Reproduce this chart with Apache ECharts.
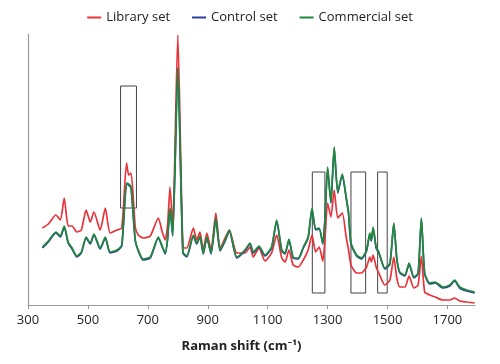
<!DOCTYPE html>
<html>
<head>
<meta charset="utf-8">
<script src="https://cdn.jsdelivr.net/npm/echarts@6/dist/echarts.min.js"></script>
<style>html,body{margin:0;padding:0;background:#fff}#c{width:500px;height:364px}</style>
</head>
<body>
<div id="c"></div>
<script>
var wavenumber = [348,368,393,408,421,434,447,463,478,494,508,520,541,558,574,597,613,629,636,644,658,668,684,708,735,748,758,766,774,783,800,817,830,852,863,874,885,897,911,927,941,958,972,997,1024,1041,1052,1071,1091,1113,1130,1147,1158,1171,1185,1202,1219,1235,1248,1260,1272,1284,1291,1300,1311,1322,1334,1349,1362,1370,1378,1397,1413,1430,1441,1446,1452,1462,1471,1491,1508,1521,1531,1541,1558,1572,1588,1602,1613,1624,1641,1659,1685,1708,1724,1741,1764,1791];
var librarySet = [77,81,90,85,107,79,79,73,75,95,83,93,75,97,72,75,77,142,130,132,78,70,67,69,87,73,65,80,118,79,270,58,57,77,65,73,55,72,55,92,57,67,75,52,52,58,48,57,44,52,70,47,43,55,40,38,45,55,70,53,58,44,65,102,88,115,87,92,68,55,40,32,32,38,48,43,50,38,32,20,25,48,27,18,18,29,17,20,49,13,10,8,5,5,7,4,3,2];
var controlSet = [57,63,72,68,78,62,56,48,52,67,61,70,56,67,52,54,59,121,120,117,64,54,45,47,67,58,51,66,96,69,236,52,48,69,61,68,51,67,51,86,54,64,74,47,54,61,52,58,49,57,84,54,51,65,47,46,57,67,96,75,76,61,84,137,102,157,112,130,107,91,61,49,46,54,71,64,77,57,52,36,41,81,46,32,29,41,27,31,86,31,21,22,17,19,24,17,14,12];
var commercialSet = [58,64,73,69,79,63,57,49,53,68,62,71,57,68,53,55,60,122,121,118,65,55,46,48,68,59,52,67,97,70,237,53,49,70,62,69,52,68,52,87,55,65,75,48,55,62,53,59,50,58,85,55,52,66,48,47,58,68,97,76,77,62,85,138,103,158,113,131,108,92,62,50,47,55,72,65,78,58,53,37,42,82,47,33,30,42,28,32,87,32,22,23,18,20,25,18,15,13];
var xTicks = [300,500,700,900,1100,1300,1500,1700];
var boxes = [[609,97,662,219],[1249,12,1291,133],[1378,12,1427,133],[1467,12,1499,133]];

function pairs(ys){ return wavenumber.map(function(w,i){ return [w, ys[i]]; }); }

var chart = echarts.init(document.getElementById('c'), null, {renderer:'canvas'});
var lineCommon = {type:'line', showSymbol:false, symbol:'none', smooth:0.2, animation:false};
chart.setOption({
  animation:false,
  legend:{
    top:6, left:'center', itemGap:22, itemWidth:14, itemHeight:2, icon:'rect',
    textStyle:{fontFamily:'Open Sans, Noto Sans, sans-serif', fontSize:13, color:'#222'},
    data:['Library set','Control set','Commercial set']
  },
  grid:{left:28, right:25, top:34, bottom:59, containLabel:false},
  xAxis:{
    type:'value', min:300, max:1792,
    axisLine:{lineStyle:{color:'#9a9a9a', width:1.2}},
    axisTick:{show:true, length:4, inside:false, customValues:xTicks, lineStyle:{color:'#9a9a9a'}},
    axisLabel:{customValues:xTicks, fontSize:13, color:'#222', margin:9, fontFamily:'Open Sans, Noto Sans, sans-serif',
      formatter:function(v){ return String(v); }},
    splitLine:{show:false},
    name:'Raman shift (cm\u207B\u00B9)', nameLocation:'middle', nameGap:35,
    nameTextStyle:{fontWeight:'bold', fontSize:13, color:'#222', fontFamily:'Open Sans, Noto Sans, sans-serif', padding:[0,20,0,0]}
  },
  yAxis:{
    type:'value', min:0, max:271,
    axisLine:{show:true, lineStyle:{color:'#9a9a9a', width:1.2}},
    axisTick:{show:false}, axisLabel:{show:false}, splitLine:{show:false}
  },
  series:[
    Object.assign({}, lineCommon, {name:'Library set', data:pairs(librarySet), itemStyle:{color:'#e8333a'}, lineStyle:{color:'#e8333a', width:1.7},
      markArea:{silent:true, itemStyle:{color:'rgba(0,0,0,0)', borderColor:'#444', borderWidth:1},
        data: boxes.map(function(b){ return [{coord:[b[0],b[1]]},{coord:[b[2],b[3]]}]; })}}),
    Object.assign({}, lineCommon, {name:'Control set', data:pairs(controlSet), itemStyle:{color:'#2b3f9e'}, lineStyle:{color:'#2b3f9e', width:1.7}}),
    Object.assign({}, lineCommon, {name:'Commercial set', data:pairs(commercialSet), itemStyle:{color:'#23893a'}, lineStyle:{color:'#23893a', width:1.7}})
  ]
});
</script>
</body>
</html>
